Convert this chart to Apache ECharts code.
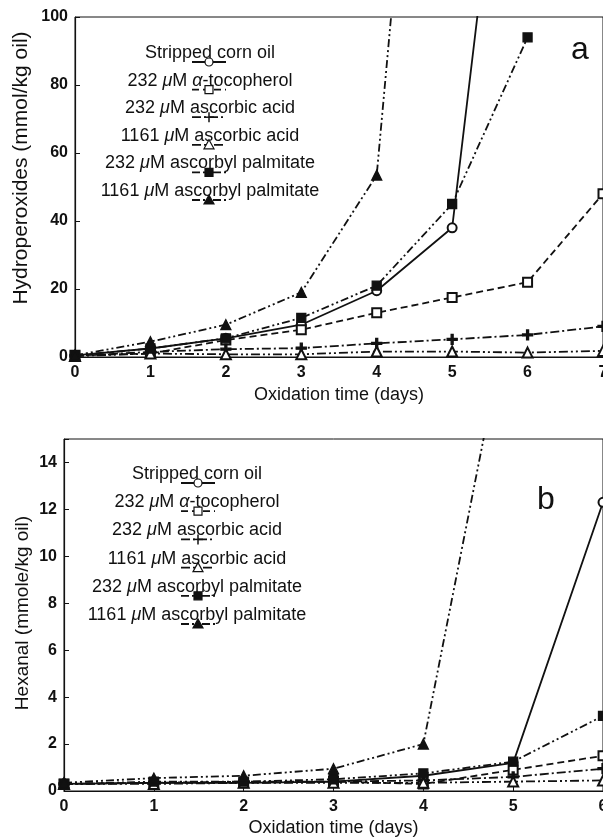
<!DOCTYPE html>
<html>
<head>
<meta charset="UTF-8">
<title></title>
<script type="text/javascript" src="https://cdn.jsdelivr.net/npm/echarts@6.0.0/dist/echarts.min.js"></script>
<style>html,body{margin:0;padding:0;background:#fff;}</style>
</head>
<body>
<div id="main" style="width:603px;height:839px;"></div>
<script type="text/javascript">
// legend labels ({g|..} = italic greek)
var labels = [
  'Stripped corn oil',
  '232 {g|\u03BC}M {g|\u03B1}-tocopherol',
  '232 {g|\u03BC}M ascorbic acid',
  '1161 {g|\u03BC}M ascorbic acid',
  '232 {g|\u03BC}M ascorbyl palmitate',
  '1161 {g|\u03BC}M ascorbyl palmitate'
];

// panel a: hydroperoxides, days 0..7 (values above 100 run off the top)
var daysA = [0, 1, 2, 3, 4, 5, 6, 7];
var cornOilA  = [0.5, 2.5, 5.5, 9.5, 19.5, 38, 224, null];
var tocoA     = [0.5, 1.0, 5.0, 8.0, 13, 17.5, 22, 48];
var asc232A   = [0.3, 1.5, 2.3, 2.6, 4.0, 5.2, 6.5, 9.0];
var asc1161A  = [0.3, 1.0, 0.8, 0.8, 1.6, 1.6, 1.3, 1.8];
var palm232A  = [0.5, 2.5, 5.5, 11.5, 21, 45, 94, null];
var palm1161A = [0.5, 4.5, 9.5, 19, 53.5, 298, null, null];

// panel b: hexanal, days 0..6
var daysB = [0, 1, 2, 3, 4, 5, 6];
var cornOilB  = [0.3, 0.35, 0.35, 0.4, 0.65, 1.2, 12.3];
var tocoB     = [0.3, 0.35, 0.35, 0.4, 0.3, 0.9, 1.5];
var asc232B   = [0.3, 0.35, 0.4, 0.4, 0.45, 0.6, 0.95];
var asc1161B  = [0.3, 0.3, 0.35, 0.35, 0.35, 0.4, 0.45];
var palm232B  = [0.3, 0.4, 0.4, 0.5, 0.75, 1.25, 3.2];
var palm1161B = [0.35, 0.55, 0.65, 0.95, 2.0, 21.4, null];

var INK = '#111';
var FONT = 'Liberation Sans';
var plusPath = 'path://M4,0H6V4H10V6H6V10H4V6H0V4H4Z';

// line / marker style per treatment
var styles = [
  {dash: 'solid',             symbol: 'emptyCircle',   size: 9,  mk: 'circle'},
  {dash: [7, 4],              symbol: 'emptyRect',     size: 9,  mk: 'orect'},
  {dash: [9, 3, 2, 3],        symbol: plusPath,        size: 10, mk: 'plus'},
  {dash: [9, 3, 2, 3, 2, 3],  symbol: 'emptyTriangle', size: 10, mk: 'otri'},
  {dash: [8, 3, 2, 3, 2, 3],  symbol: 'rect',          size: 9,  mk: 'rect'},
  {dash: [8, 3, 2, 3, 2, 3],  symbol: 'triangle',      size: 10, mk: 'tri'}
];

function pairs(xs, ys) {
  var out = [];
  for (var i = 0; i < xs.length; i++) {
    if (ys[i] !== null) out.push([xs[i], ys[i]]);
  }
  return out;
}

function mkSeries(idx, xs, ys, panel) {
  var s = styles[idx];
  return {
    type: 'line',
    name: labels[idx] + panel,
    xAxisIndex: panel, yAxisIndex: panel,
    data: pairs(xs, ys),
    symbol: s.symbol, symbolSize: s.size,
    showAllSymbol: true,
    clip: true,
    lineStyle: {color: INK, width: 1.8, type: s.dash},
    itemStyle: {color: INK, borderColor: INK, borderWidth: 1.3}
  };
}

var setA = [cornOilA, tocoA, asc232A, asc1161A, palm232A, palm1161A];
var setB = [cornOilB, tocoB, asc232B, asc1161B, palm232B, palm1161B];
var series = [];
setA.forEach(function (ys, i) { series.push(mkSeries(i, daysA, ys, 0)); });
setB.forEach(function (ys, i) { series.push(mkSeries(i, daysB, ys, 1)); });

// hand-drawn legend: centred text with a short sample line underneath
function legendMarker(kind, cx, cy) {
  var st = {fill: INK, stroke: INK, lineWidth: 1.2};
  var hollow = {fill: '#fff', stroke: INK, lineWidth: 1.2};
  if (kind === 'circle') return {type: 'circle', shape: {cx: cx, cy: cy, r: 4}, style: hollow};
  if (kind === 'orect') return {type: 'rect', shape: {x: cx - 4, y: cy - 4, width: 8, height: 8}, style: hollow};
  if (kind === 'rect') return {type: 'rect', shape: {x: cx - 4, y: cy - 4, width: 8, height: 8}, style: st};
  if (kind === 'tri') return {type: 'polygon', shape: {points: [[cx, cy - 5], [cx + 5, cy + 4], [cx - 5, cy + 4]]}, style: st};
  if (kind === 'otri') return {type: 'polygon', shape: {points: [[cx, cy - 5], [cx + 5, cy + 4], [cx - 5, cy + 4]]}, style: hollow};
  return {type: 'group', children: [
    {type: 'line', shape: {x1: cx - 5, y1: cy, x2: cx + 5, y2: cy}, style: {stroke: INK, lineWidth: 1.5}},
    {type: 'line', shape: {x1: cx, y1: cy - 5, x2: cx, y2: cy + 5}, style: {stroke: INK, lineWidth: 1.5}}
  ]};
}

function legend(textX, sampleX, y0, step) {
  var els = [];
  labels.forEach(function (lab, i) {
    var y = y0 + i * step;
    var s = styles[i];
    els.push({
      type: 'text',
      style: {
        text: lab, x: textX, y: y,
        fontSize: 18, fontFamily: FONT, fill: INK,
        align: 'center', verticalAlign: 'middle',
        textAlign: 'center', textVerticalAlign: 'middle',
        rich: {g: {fontStyle: 'italic', fontSize: 18, fontFamily: FONT, fill: INK}}
      }
    });
    els.push({
      type: 'line',
      shape: {x1: sampleX - 17, y1: y + 9, x2: sampleX + 17, y2: y + 9},
      style: {stroke: INK, lineWidth: 1.8, lineDash: s.dash === 'solid' ? null : s.dash}
    });
    els.push(legendMarker(s.mk, sampleX, y + 9));
  });
  return els;
}

function label(text, x, y, size, rot) {
  return {
    type: 'text', x: x, y: y, rotation: rot || 0,
    style: {text: text, x: 0, y: 0, fontSize: size, fontFamily: FONT, fill: INK,
            align: 'center', verticalAlign: 'middle', textAlign: 'center', textVerticalAlign: 'middle'}
  };
}

var graphics = [].concat(
  legend(210, 209, 53, 27.6),
  legend(197, 198, 474, 28.2),
  [
    label('a', 580, 50, 32),
    label('b', 546, 500, 32),
    // y-axis titles
    label('Hydroperoxides (mmol/kg oil)', 21, 168, 21, Math.PI / 2),
    label('Hexanal (mmole/kg oil)', 23, 613, 19, Math.PI / 2)
  ]
);

var tickLabel = {color: INK, fontSize: 16, fontWeight: 'bold', fontFamily: FONT};
var nameText = {color: INK, fontSize: 18, fontFamily: FONT};
var axLine = {show: true, lineStyle: {color: INK, width: 1.2}};
var tick = {show: true, inside: true, length: 5, lineStyle: {color: INK, width: 1}};

var myChart = echarts.init(document.getElementById('main'));
myChart.setOption({
  animation: false,
  backgroundColor: '#fff',
  grid: [
    {left: 75, top: 17, width: 528, height: 340, containLabel: false, outerBoundsMode: 'none',
     show: true, borderColor: INK, borderWidth: 1, backgroundColor: 'transparent'},
    {left: 64, top: 439, width: 539, height: 352, containLabel: false, outerBoundsMode: 'none',
     show: true, borderColor: INK, borderWidth: 1, backgroundColor: 'transparent'}
  ],
  xAxis: [
    {type: 'value', gridIndex: 0, min: 0, max: 7, interval: 1,
     name: 'Oxidation time (days)', nameLocation: 'middle', nameGap: 29, nameTextStyle: nameText,
     axisLine: axLine, axisTick: tick, splitLine: {show: false},
     axisLabel: Object.assign({margin: 8}, tickLabel)},
    {type: 'value', gridIndex: 1, min: 0, max: 6, interval: 1,
     name: 'Oxidation time (days)', nameLocation: 'middle', nameGap: 28, nameTextStyle: nameText,
     axisLine: axLine, axisTick: tick, splitLine: {show: false},
     axisLabel: Object.assign({margin: 8}, tickLabel)}
  ],
  yAxis: [
    {type: 'value', gridIndex: 0, min: 0, max: 100, interval: 20,
     axisLine: axLine, axisTick: tick, splitLine: {show: false},
     axisLabel: Object.assign({margin: 7}, tickLabel)},
    {type: 'value', gridIndex: 1, min: 0, max: 15, interval: 2,
     axisLine: axLine, axisTick: tick, splitLine: {show: false},
     axisLabel: Object.assign({margin: 7, formatter: function (v) { return v > 14 ? '' : v; }}, tickLabel)}
  ],
  series: series,
  graphic: graphics
});
</script>
</body>
</html>
